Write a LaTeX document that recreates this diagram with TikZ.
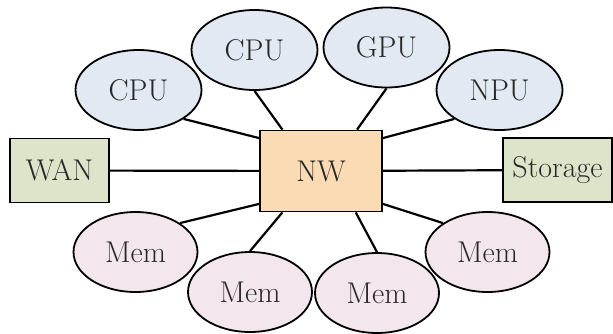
\documentclass[tikz,border=0pt]{standalone}
\usetikzlibrary{shapes.geometric}
\definecolor{procfill}{RGB}{226,233,242}
\definecolor{memfill}{RGB}{243,230,236}
\definecolor{nwfill}{RGB}{251,219,180}
\definecolor{iofill}{RGB}{222,228,201}
\definecolor{txt}{RGB}{40,40,40}
\tikzset{
  lbl/.style={font=\fontsize{15}{18}\selectfont, text=txt},
  proc/.style={lbl, ellipse, draw=black, line width=0.9pt, fill=procfill, minimum width=63pt, minimum height=40pt, inner sep=1pt},
  memnode/.style={lbl, ellipse, draw=black, line width=0.9pt, fill=memfill, minimum width=62pt, minimum height=40pt, inner sep=1pt},
  iobox/.style={lbl, rectangle, draw=black, line width=0.9pt, fill=iofill, minimum height=32pt, inner sep=2pt},
  nwbox/.style={lbl, rectangle, draw=black, line width=0.9pt, fill=nwfill, minimum width=61pt, minimum height=40.5pt},
  link/.style={line width=1.1pt, black}
}
\begin{document}
\begin{tikzpicture}[x=0.5pt, y=-0.5pt]
\useasboundingbox (0,0) rectangle (613,333);
\node[nwbox] (nw) at (321,171) {NW};
\node[iobox, minimum width=49.5pt] (wan) at (59.5,170.5) {WAN};
\node[iobox, minimum width=54.5pt] (sto) at (557.5,170) {Storage};
\node[proc] (cpu1) at (138.5,90) {CPU};
\node[proc] (cpu2) at (254.5,50) {CPU};
\node[proc] (gpu) at (386.5,47.5) {GPU};
\node[proc] (npu) at (499.5,90) {NPU};
\node[memnode] (mem1) at (135.5,252) {Mem};
\node[memnode] (mem2) at (250,292) {Mem};
\node[memnode] (mem3) at (377,293) {Mem};
\node[memnode] (mem4) at (487.5,252) {Mem};
\draw[link] (wan) -- (nw);
\draw[link] (nw) -- (sto);
\draw[link] (cpu1.south east) -- (nw.152);
\draw[link] (cpu2.south) -- (nw.133);
\draw[link] (gpu.south) -- (nw.49);
\draw[link] (npu.south west) -- (nw.28);
\draw[link] (mem1.north east) -- (nw.208);
\draw[link] (mem2.north) -- (nw.227);
\draw[link] (mem3.north) -- (nw.310);
\draw[link] (mem4.north west) -- (nw.332);
\end{tikzpicture}
\end{document}
